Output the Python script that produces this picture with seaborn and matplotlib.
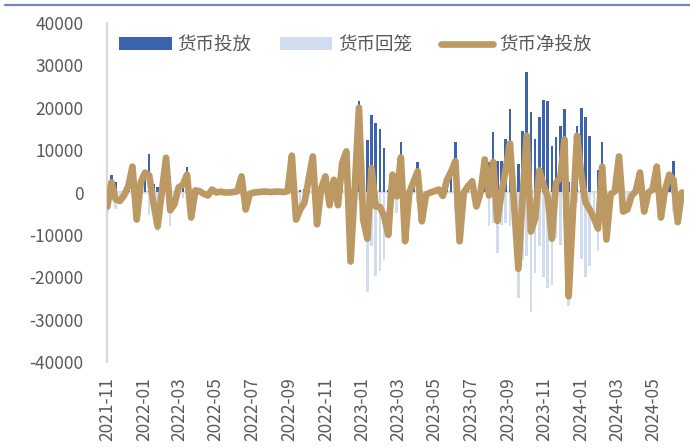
import numpy as np
import pandas as pd
import matplotlib
matplotlib.use("Agg")
import matplotlib.pyplot as plt
import matplotlib.dates as mdates
from matplotlib.patches import Patch
from matplotlib.lines import Line2D
import seaborn as sns

# Weekly open-market liquidity (亿元): injections, withdrawals (negative) and net
week_start = "2021-11-05"
n_weeks = 138

injection = [
    1500, 4200, 2400, 0, 300, 1800, 6500, 0, 3000, 5000,
    9200, 2000, 1200, 1000, 8200, 3800, 200, 1500, 3000, 6100,
    0, 700, 500, 200, 0, 900, 300, 400, 200, 100,
    300, 500, 4000, 0, 0, 100, 100, 200, 200, 100,
    200, 200, 100, 300, 9000, 0, 500, 800, 3500, 8500,
    500, 1500, 4000, 300, 3200, 0, 7200, 10000, 500, 1500,
    21700, 0, 12500, 18400, 16500, 15100, 10400, 500, 4500, 3900,
    11800, 0, 300, 2800, 7300, 200, 300, 300, 500, 900,
    200, 3300, 5300, 11800, 0, 500, 1800, 3500, 0, 500,
    8000, 7300, 14300, 7500, 7500, 12700, 19600, 0, 6800, 14600,
    28400, 19100, 12700, 17900, 21800, 21500, 10900, 13000, 15800, 19600,
    2400, 0, 15800, 20000, 17700, 13400, 0, 5400, 11800, 0,
    300, 500, 8500, 0, 0, 200, 500, 4700, 0, 200,
    900, 6100, 0, 900, 4200, 7500, 0, 200,
]

withdrawal = [
    -4800, -1800, -4000, -2000, -1000, -300, -400, -6400, -500, -300,
    -5200, -4500, -9200, -1000, 0, -8000, -3000, -300, -1200, -1900,
    -5900, -200, -200, -500, -700, -200, -300, -200, -200, -100,
    -200, -200, -200, -4000, -300, -100, 0, 0, 0, 0,
    0, 0, 0, 0, -300, -6400, -4500, -3200, -500, 0,
    -8000, -500, -200, -3300, -200, -3000, -200, -300, -16800, -500,
    -1700, -6400, -23400, -12700, -19800, -18500, -16000, -10500, -300, -4800,
    -3500, -11500, -300, -300, -2300, -7000, -800, -300, -200, -200,
    -1000, -300, -300, -4400, -11500, -500, -300, -900, -3300, -500,
    -200, -8000, -7100, -14200, -7600, -7100, -8000, -3000, -24800, -16000,
    -15000, -28300, -18900, -12700, -20000, -22500, -21800, -10700, -12300, -7100,
    -26900, -5000, -2400, -15800, -20000, -17400, -6000, -13900, -5700, -11100,
    -800, -200, 0, -4500, -4000, -1000, -200, 0, -4500, -200,
    -200, 0, -5900, -200, 0, -4500, -7000, -200,
]

series_names = ["货币投放", "货币回笼", "货币净投放"]
tick_labels = ["2021-11", "2022-01", "2022-03", "2022-05", "2022-07", "2022-09",
               "2022-11", "2023-01", "2023-03", "2023-05", "2023-07", "2023-09",
               "2023-11", "2024-01", "2024-03", "2024-05"]

dates = pd.date_range(week_start, periods=n_weeks, freq="7D")
x = mdates.date2num(dates.to_pydatetime())
inj = np.array(injection, dtype=float)
wdr = np.array(withdrawal, dtype=float)
net = inj + wdr

c_inj = "#3B63AE"
c_wdr = "#CFDDEF"
c_net = "#BC9963"
c_text = "#595959"
c_axis = "#D9D9D9"

sns.set_style("white")
plt.rcParams["font.family"] = ["Noto Sans CJK SC", "DejaVu Sans"]

fig = plt.figure(figsize=(6.9, 4.48), dpi=100)
ax = fig.add_axes([107 / 690, 1 - 362 / 448, (684 - 107) / 690, (362 - 23) / 448])

ax.axhline(0, color=c_axis, lw=1.6, zorder=0.5)

sns.barplot(x=x, y=wdr, native_scale=True, width=0.6, color=c_wdr,
            saturation=1, errorbar=None, linewidth=0, ax=ax, zorder=2)
sns.barplot(x=x, y=inj, native_scale=True, width=0.6, color=c_inj,
            saturation=1, errorbar=None, linewidth=0, ax=ax, zorder=2)
sns.lineplot(x=x, y=net, color=c_net, linewidth=4.8, ax=ax, zorder=3,
             solid_joinstyle="round", solid_capstyle="round")

ax.set_xlim(x[0] - 0.5, x[-1] + 3.5)
ax.set_ylim(-40000, 40000)
ax.set_yticks(np.arange(-40000, 40001, 10000))
ax.set_yticklabels([f"{v}" for v in range(-40000, 40001, 10000)])

start = pd.Timestamp(week_start)
tick_pos = [mdates.date2num((start + pd.DateOffset(months=2 * k)).to_pydatetime())
            for k in range(len(tick_labels))]
ax.set_xticks(tick_pos)
ax.set_xticklabels(tick_labels, rotation=90)

ax.set_xlabel("")
ax.set_ylabel("")
for side in ["top", "right", "bottom"]:
    ax.spines[side].set_visible(False)
ax.spines["left"].set_color(c_axis)
ax.spines["left"].set_linewidth(1.6)
ax.tick_params(axis="y", length=0, pad=17, labelsize=12.5, labelcolor=c_text)
ax.tick_params(axis="x", length=0, pad=11, labelsize=12.5, labelcolor=c_text)

handles = [
    Patch(facecolor=c_inj, edgecolor="none"),
    Patch(facecolor=c_wdr, edgecolor="none"),
    Line2D([], [], color=c_net, lw=4.8, solid_capstyle="round"),
]
fig.legend(handles, series_names, loc="center left",
           bbox_to_anchor=(119 / 690, 1 - 45 / 448), ncol=3, frameon=False,
           fontsize=13.3, labelcolor=c_text, borderpad=0, borderaxespad=0,
           handlelength=2.85, handleheight=0.7, handletextpad=0.3,
           columnspacing=1.55)

fig.add_artist(Line2D([5 / 690, 1], [1 - 5 / 448, 1 - 5 / 448],
                      transform=fig.transFigure, color="#6F89B6", lw=1.6))

fig.savefig("out.png", dpi=100, facecolor="white")
